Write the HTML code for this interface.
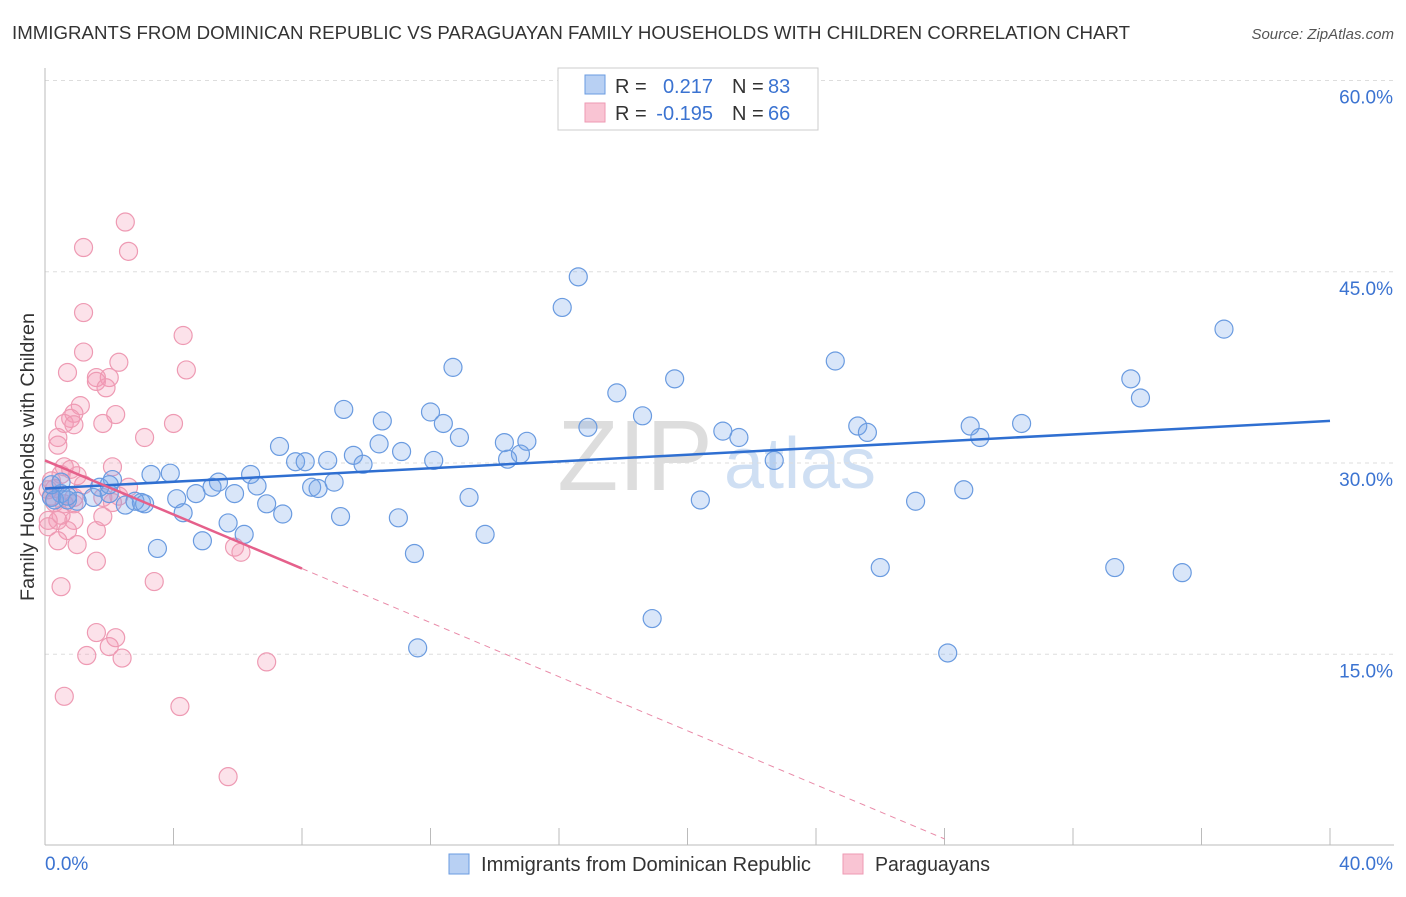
<!DOCTYPE html>
<html><head><meta charset="utf-8"><style>
body{margin:0;background:#fff;font-family:"Liberation Sans",sans-serif;}
svg text{font-family:"Liberation Sans",sans-serif;}
</style></head><body>
<svg id="chart" width="1406" height="892" viewBox="0 0 1406 892">
<text x="12" y="39" font-size="18" fill="#333" textLength="1118" lengthAdjust="spacingAndGlyphs">IMMIGRANTS FROM DOMINICAN REPUBLIC VS PARAGUAYAN FAMILY HOUSEHOLDS WITH CHILDREN CORRELATION CHART</text>
<text x="1394" y="39" font-size="15" fill="#555" font-style="italic" text-anchor="end">Source: ZipAtlas.com</text>
<text x="34" y="457" font-size="19" fill="#333" text-anchor="middle" transform="rotate(-90 34 457)" textLength="288" lengthAdjust="spacingAndGlyphs">Family Households with Children</text>
<text x="635" y="490" font-size="100" fill="#ddd" font-family="Liberation Serif" text-anchor="middle">ZIP</text>
<text x="800" y="488" font-size="72" fill="#cfdff3" text-anchor="middle">atlas</text>
<g id="grid"></g><g id="axes"></g><g id="pts"></g><g id="lines"></g>
<g>
<rect x="558" y="68" width="260" height="62" fill="#fff" stroke="#ccc"/>
<rect x="585" y="75" width="20" height="19" fill="#b8d0f3" stroke="#6a9be0"/>
<text x="615" y="93" font-size="20" fill="#333">R =</text><text x="713" y="93" font-size="20" fill="#3b73d1" text-anchor="end">0.217</text>
<text x="732" y="93" font-size="20" fill="#333">N =</text><text x="768" y="93" font-size="20" fill="#3b73d1">83</text>
<rect x="585" y="103" width="20" height="19" fill="#f9c4d3" stroke="#ee9ab3"/>
<text x="615" y="120" font-size="20" fill="#333">R =</text><text x="713" y="120" font-size="20" fill="#3b73d1" text-anchor="end">-0.195</text>
<text x="732" y="120" font-size="20" fill="#333">N =</text><text x="768" y="120" font-size="20" fill="#3b73d1">66</text>
</g>
<g>
<rect x="449" y="854" width="20" height="20" fill="#b8d0f3" stroke="#6a9be0"/>
<text x="481" y="871" font-size="20" fill="#333" textLength="330" lengthAdjust="spacingAndGlyphs">Immigrants from Dominican Republic</text>
<rect x="843" y="854" width="20" height="20" fill="#f9c4d3" stroke="#ee9ab3"/>
<text x="875" y="871" font-size="20" fill="#333" textLength="115" lengthAdjust="spacingAndGlyphs">Paraguayans</text>
</g>
</svg>
<script>
const blueX=[16.6,16.1,36.7,24.6,12.7,19.6,33.8,34.1,17.8,9.3,12.0,10.5,18.6,12.4,25.3,28.8,30.4,16.9,21.1,25.6,21.6,12.9,14.3,15.0,10.4,29.1,7.3,11.1,9.6,14.8,14.4,7.8,8.1,8.8,9.9,12.1,22.7,3.3,3.9,6.4,5.4,5.2,6.6,8.3,8.5,9.0,13.2,20.4,27.1,28.6,5.9,4.7,4.1,1.5,0.5,0.2,0.3,0.7,1.0,2.5,3.0,2.8,3.1,2.1,1.7,2.0,4.3,6.9,7.4,9.2,11.0,5.7,6.2,4.9,3.5,11.5,13.7,26.0,33.3,35.4,18.9,11.6,28.1,0.2,0.5,0.7,2.0];
const blueY=[44.6,42.2,40.5,38.0,37.5,36.6,36.6,35.1,35.5,34.2,34.0,33.3,33.7,33.1,32.9,32.9,33.1,32.8,32.5,32.4,32.0,32.0,31.6,31.7,31.5,32.0,31.3,30.9,30.6,30.7,30.3,30.1,30.1,30.2,29.9,30.2,30.2,29.1,29.2,29.1,28.5,28.1,28.2,28.1,28.0,28.5,27.3,27.1,27.0,27.9,27.6,27.6,27.2,27.3,27.6,27.3,27.1,27.1,27.0,26.7,26.9,27.0,26.8,28.7,28.1,27.6,26.1,26.8,26.0,25.8,25.7,25.3,24.4,23.9,23.3,22.9,24.4,21.8,21.8,21.4,17.8,15.5,15.1,28.3,28.5,27.4,28.3];
const pinkX=[2.5,2.6,1.2,1.2,4.3,1.2,2.3,4.4,0.7,1.6,2.0,1.6,1.9,1.1,2.2,0.9,0.8,0.6,0.9,1.8,4.0,3.1,0.4,0.4,2.1,0.6,0.8,1.0,0.5,0.2,0.3,1.2,2.6,0.1,2.3,0.2,0.9,1.8,0.3,0.6,0.9,2.1,0.5,0.1,0.4,1.8,0.9,0.1,1.6,0.7,0.4,1.0,5.9,6.1,1.6,3.4,0.5,1.6,2.2,2.0,1.3,2.4,6.9,0.6,4.2,5.7];
const pinkY=[48.9,46.6,46.9,41.8,40.0,38.7,37.9,37.3,37.1,36.7,36.7,36.4,35.9,34.5,33.8,33.9,33.5,33.1,33.0,33.1,33.1,32.0,32.0,31.4,29.7,29.7,29.5,29.0,29.1,28.6,28.0,28.3,28.1,27.9,27.4,27.4,27.3,27.3,26.9,26.8,26.8,26.9,25.9,25.5,25.5,25.8,25.5,25.0,24.7,24.7,23.9,23.6,23.4,23.0,22.3,20.7,20.3,16.7,16.3,15.6,14.9,14.7,14.4,11.7,10.9,5.4];
const yTicks=[15,30,45,60];
const xTickLabels=["0.0%","40.0%"];
const blueTrend=[28.0,33.3];
const pinkTrend=[30.2,-1.06];
const NS='http://www.w3.org/2000/svg';
const xs=v=>45+v*32.125, ys=v=>845.5-v*12.75;
function mk(p,t,a){const e=document.createElementNS(NS,t);for(const k in a)e.setAttribute(k,a[k]);document.getElementById(p).appendChild(e);return e;}
yTicks.forEach(t=>{
 const g=mk('grid','line',{x1:45,x2:1394,y1:ys(t),y2:ys(t),stroke:'#ddd','stroke-dasharray':'4,4'});
 
 
 const l=mk('grid','text',{x:1393,y:ys(t)+23,'font-size':19,fill:'#3b73d1','text-anchor':'end'});
 l.textContent=t.toFixed(1)+'%';
 
 
});
const ax=mk('axes','line',{x1:45,x2:45,y1:68,y2:845,stroke:'#bbb'});


const bx=mk('axes','line',{x1:45,x2:1394,y1:845,y2:845,stroke:'#bbb'});


for(let i=0;i<=10;i++){const tk=mk('axes','line',{x1:xs(i*4),x2:xs(i*4),y1:828,y2:845,stroke:'#bbb'});
 
 }
xTickLabels.forEach((s,i)=>{const t=mk('axes','text',{x:i?1393:45,y:870,'font-size':19,fill:'#3b73d1','text-anchor':i?'end':'start'});t.textContent=s;
 
 });
function pts(X,Y,f,s,n){X.forEach((x,i)=>{const c=mk('pts','circle',{cx:xs(x),cy:ys(Y[i]),r:9,fill:f,stroke:s,'stroke-width':1.2});
 
 });}
pts(pinkX,pinkY,'rgba(244,150,180,0.28)','#ee9ab3','pink-point');
pts(blueX,blueY,'rgba(120,165,235,0.28)','#6a9be0','blue-point');
const bl=mk('lines','line',{x1:xs(0),y1:ys(blueTrend[0]),x2:xs(40),y2:ys(blueTrend[1]),stroke:'#2f6fd1','stroke-width':2.5});


const pf=x=>pinkTrend[0]+pinkTrend[1]*x;
const ps=mk('lines','line',{x1:xs(0),y1:ys(pf(0)),x2:xs(8),y2:ys(pf(8)),stroke:'#e5608b','stroke-width':2.5});


const pd=mk('lines','line',{x1:xs(8),y1:ys(pf(8)),x2:xs(28),y2:ys(pf(28)),stroke:'#e98aa8','stroke-width':1,'stroke-dasharray':'6,5'});


</script>
</body></html>
